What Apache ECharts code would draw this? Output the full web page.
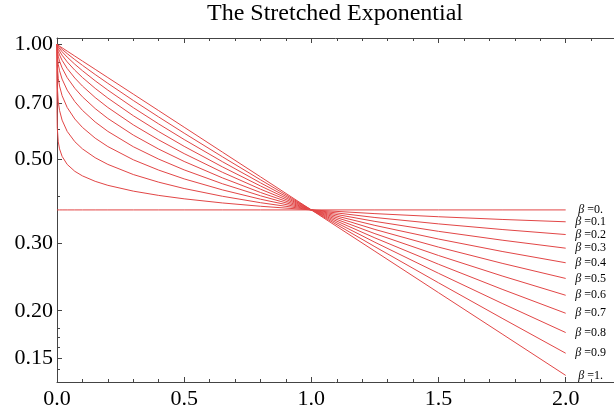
<!DOCTYPE html>
<html>
<head>
<meta charset="utf-8">
<script src="https://cdn.jsdelivr.net/npm/echarts@6/dist/echarts.min.js"></script>
<style>html,body{margin:0;padding:0;background:#fff;}#chart{width:614px;height:410px;}</style>
</head>
<body>
<div id="chart"></div>
<script>
// Sample positions along t (x axis)
var tValues = [0, 0.0001, 0.001, 0.005, 0.01, 0.02, 0.04, 0.07, 0.1, 0.15, 0.2, 0.3, 0.4, 0.5, 0.65, 0.8, 1.0, 1.25, 1.5, 1.75, 2.0];

// Values, one array per beta
var beta00 = [0.3679, 0.3679, 0.3679, 0.3679, 0.3679, 0.3679, 0.3679, 0.3679, 0.3679, 0.3679, 0.3679, 0.3679, 0.3679, 0.3679, 0.3679, 0.3679, 0.3679, 0.3679, 0.3679, 0.3679, 0.3679];
var beta01 = [1, 0.6716, 0.6058, 0.5551, 0.5321, 0.5086, 0.4844, 0.4646, 0.4519, 0.4373, 0.4268, 0.4121, 0.4016, 0.3934, 0.3837, 0.3761, 0.3679, 0.3597, 0.3530, 0.3473, 0.3424];
var beta02 = [1, 0.8534, 0.7779, 0.7071, 0.6716, 0.6330, 0.5914, 0.5557, 0.5321, 0.5044, 0.4844, 0.4556, 0.4350, 0.4187, 0.3996, 0.3843, 0.3679, 0.3514, 0.3381, 0.3268, 0.3170];
var beta03 = [1, 0.9388, 0.8817, 0.8155, 0.7779, 0.7340, 0.6834, 0.6374, 0.6058, 0.5677, 0.5395, 0.4981, 0.4679, 0.4438, 0.4153, 0.3925, 0.3679, 0.3432, 0.3232, 0.3064, 0.2919];
var beta04 = [1, 0.9752, 0.9388, 0.8868, 0.8534, 0.8113, 0.7589, 0.7081, 0.6716, 0.6261, 0.5914, 0.5390, 0.5000, 0.4686, 0.4310, 0.4007, 0.3679, 0.3350, 0.3085, 0.2862, 0.2673];
var beta05 = [1, 0.9900, 0.9689, 0.9317, 0.9048, 0.8681, 0.8187, 0.7675, 0.7289, 0.6789, 0.6394, 0.5783, 0.5313, 0.4931, 0.4466, 0.4088, 0.3679, 0.3269, 0.2938, 0.2664, 0.2431];
var beta06 = [1, 0.9960, 0.9843, 0.9592, 0.9388, 0.9088, 0.8651, 0.8165, 0.7779, 0.7258, 0.6834, 0.6152, 0.5616, 0.5170, 0.4620, 0.4170, 0.3679, 0.3187, 0.2793, 0.2468, 0.2196];
var beta07 = [1, 0.9984, 0.9921, 0.9758, 0.9610, 0.9374, 0.9003, 0.8561, 0.8191, 0.7671, 0.7232, 0.6501, 0.5907, 0.5403, 0.4773, 0.4252, 0.3679, 0.3106, 0.2649, 0.2277, 0.1970];
var beta08 = [1, 0.9994, 0.9960, 0.9857, 0.9752, 0.9572, 0.9267, 0.8876, 0.8534, 0.8031, 0.7589, 0.6826, 0.6185, 0.5630, 0.4925, 0.4333, 0.3679, 0.3025, 0.2508, 0.2091, 0.1753];
var beta09 = [1, 0.9997, 0.9980, 0.9915, 0.9843, 0.9709, 0.9463, 0.9127, 0.8817, 0.8341, 0.7907, 0.7128, 0.6451, 0.5851, 0.5074, 0.4414, 0.3679, 0.2945, 0.2368, 0.1911, 0.1547];
var beta10 = [1, 0.9999, 0.9990, 0.9950, 0.9900, 0.9802, 0.9608, 0.9324, 0.9048, 0.8607, 0.8187, 0.7408, 0.6703, 0.6065, 0.5220, 0.4493, 0.3679, 0.2865, 0.2231, 0.1738, 0.1353];

var curveNames = ['0.', '0.1', '0.2', '0.3', '0.4', '0.5', '0.6', '0.7', '0.8', '0.9', '1.'];
var curveValues = [beta00, beta01, beta02, beta03, beta04, beta05, beta06, beta07, beta08, beta09, beta10];

// Tick values
var xMajorTicks = [0, 0.5, 1.0, 1.5, 2.0];
var xMinorTicks = [0.1, 0.2, 0.3, 0.4, 0.6, 0.7, 0.8, 0.9, 1.1, 1.2, 1.3, 1.4, 1.6, 1.7, 1.8, 1.9, 2.1];
var yMajorTicks = [0.15, 0.2, 0.3, 0.5, 0.7, 1.0];
var yMinorTicks = [0.14, 0.16, 0.17, 0.18, 0.4, 0.6, 0.8, 0.9];

var FONT = 'Liberation Serif';
var AXIS_COLOR = '#444';
var LINE_COLOR = 'rgb(226,70,70)';
var X_MIN = 0, X_MAX = 2.19, Y_MIN = 0.13, Y_MAX = 1.04;

function xAx(pos, ticks, len, showLine, showLabel) {
  return {
    type: 'value', position: pos, min: X_MIN, max: X_MAX,
    axisLine: { show: showLine, onZero: false, lineStyle: { color: AXIS_COLOR, width: 1 } },
    axisTick: { show: true, inside: true, length: len, customValues: ticks, lineStyle: { color: AXIS_COLOR, width: 1 } },
    axisLabel: showLabel ? { show: true, customValues: ticks, margin: 6, color: '#000', fontFamily: FONT, fontSize: 22,
      formatter: function (v) { return v.toFixed(1); } } : { show: false },
    splitLine: { show: false }
  };
}
function yAx(ticks, len, showLine, showLabel) {
  return {
    type: 'log', logBase: 10, position: 'left', min: Y_MIN, max: Y_MAX,
    axisLine: { show: showLine, onZero: false, lineStyle: { color: AXIS_COLOR, width: 1 } },
    axisTick: { show: true, inside: true, length: len, customValues: ticks, lineStyle: { color: AXIS_COLOR, width: 1 } },
    axisLabel: showLabel ? { show: true, customValues: ticks, margin: 4, color: '#000', fontFamily: FONT, fontSize: 22,
      formatter: function (v) { return v.toFixed(2); } } : { show: false },
    splitLine: { show: false }
  };
}

var series = curveValues.map(function (vals, k) {
  return {
    type: 'line', name: curveNames[k], xAxisIndex: 0, yAxisIndex: 0,
    data: tValues.map(function (t, i) { return [t, vals[i]]; }),
    showSymbol: false, symbol: 'none', smooth: false, silent: true,
    lineStyle: { color: LINE_COLOR, width: 1 },
    endLabel: {
      show: true, position: 'right', distance: 25, align: 'center',
      color: '#000', fontFamily: FONT, fontSize: 12,
      formatter: function () { return '{i|β} =' + curveNames[k]; },
      rich: { i: { fontStyle: 'italic', fontFamily: FONT, fontSize: 12, color: '#000' } }
    },
    emphasis: { disabled: true }
  };
});

var chart = echarts.init(document.getElementById('chart'), null, { renderer: 'canvas' });
chart.setOption({
  animation: false,
  backgroundColor: '#fff',
  title: {
    text: 'The Stretched Exponential', left: 335, top: 2, textAlign: 'center', padding: 0,
    textStyle: { fontFamily: FONT, fontSize: 24, fontWeight: 'normal', color: '#000' }
  },
  grid: { left: 57, right: 0, top: 38, bottom: 27, containLabel: false },
  xAxis: [
    xAx('bottom', xMajorTicks, 5, true, true),
    xAx('bottom', xMinorTicks, 3, false, false),
    xAx('top', xMajorTicks, 5, true, false),
    xAx('top', xMinorTicks, 3, false, false)
  ],
  yAxis: [
    yAx(yMajorTicks, 5, true, true),
    yAx(yMinorTicks, 3, false, false)
  ],
  series: series
});
</script>
</body>
</html>
